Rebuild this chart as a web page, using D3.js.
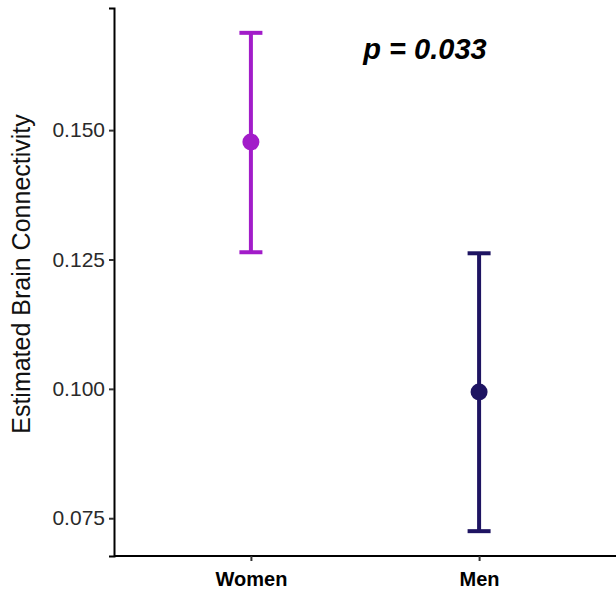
<!DOCTYPE html>
<html>
<head>
<meta charset="utf-8">
<script src="https://d3js.org/d3.v7.min.js"></script>
<style>
  body { margin: 0; background: #fff; }
  text { font-family: Arial, "Liberation Sans", sans-serif; }
</style>
</head>
<body>
<svg id="chart" width="616" height="593"></svg>
<script>
  // data
  var groups = ["Women", "Men"];
  var means = [0.1477, 0.0994];
  var upper = [0.1688, 0.1262];
  var lower = [0.1264, 0.0725];
  var colors = ["#A21CC9", "#1E1462"];
  var yTicks = [0.075, 0.100, 0.125, 0.150];
  var pLabel = "p = 0.033";

  var svg = d3.select("#chart");
  var mLeft = 114, mRight = 616, mTop = 8, mBottom = 556;

  var x = d3.scalePoint()
    .domain(groups)
    .range([mLeft, mRight])
    .padding(0.6);

  var y = d3.scaleLinear()
    .domain([0.0677, 0.1736])
    .range([mBottom, mTop]);

  // y axis
  var yAxis = svg.append("g")
    .attr("transform", "translate(" + mLeft + ",0)")
    .call(d3.axisLeft(y).tickValues(yTicks).tickFormat(d3.format(".3f")).tickSize(5).tickPadding(4));
  yAxis.select(".domain").attr("stroke", "#000").attr("stroke-width", 2);
  yAxis.selectAll(".tick line").attr("stroke", "#333").attr("stroke-width", 2);
  yAxis.selectAll(".tick text").attr("font-size", 21).attr("fill", "#2a2a2a");

  // x axis
  var xAxis = svg.append("g")
    .attr("transform", "translate(0," + mBottom + ")")
    .call(d3.axisBottom(x).tickSize(5).tickPadding(11));
  xAxis.select(".domain").attr("stroke", "#000").attr("stroke-width", 2)
    .attr("d", "M" + mLeft + ",0H" + mRight);
  xAxis.selectAll(".tick line").attr("stroke", "#333").attr("stroke-width", 2);
  xAxis.selectAll(".tick text").attr("font-size", 20).attr("font-weight", "bold").attr("fill", "#000");

  // error bars
  var g = svg.append("g");
  groups.forEach(function(d, i) {
    var cx = x(d);
    g.append("line")
      .attr("x1", cx).attr("x2", cx)
      .attr("y1", y(upper[i])).attr("y2", y(lower[i]))
      .attr("stroke", colors[i]).attr("stroke-width", 4);
    [upper[i], lower[i]].forEach(function(v) {
      g.append("line")
        .attr("x1", cx - 11.5).attr("x2", cx + 11.5)
        .attr("y1", y(v)).attr("y2", y(v))
        .attr("stroke", colors[i]).attr("stroke-width", 4);
    });
    g.append("circle")
      .attr("cx", cx).attr("cy", y(means[i]))
      .attr("r", 8.5)
      .attr("fill", colors[i]);
  });

  // y label
  svg.append("text")
    .attr("transform", "translate(30,274) rotate(-90)")
    .attr("text-anchor", "middle")
    .attr("font-size", 25)
    .attr("fill", "#111")
    .text("Estimated Brain Connectivity");

  // p value
  svg.append("text")
    .attr("x", 425).attr("y", 59)
    .attr("text-anchor", "middle")
    .attr("font-size", 29)
    .attr("font-weight", "bold")
    .attr("font-style", "italic")
    .attr("fill", "#000")
    .text(pLabel);
</script>
</body>
</html>
